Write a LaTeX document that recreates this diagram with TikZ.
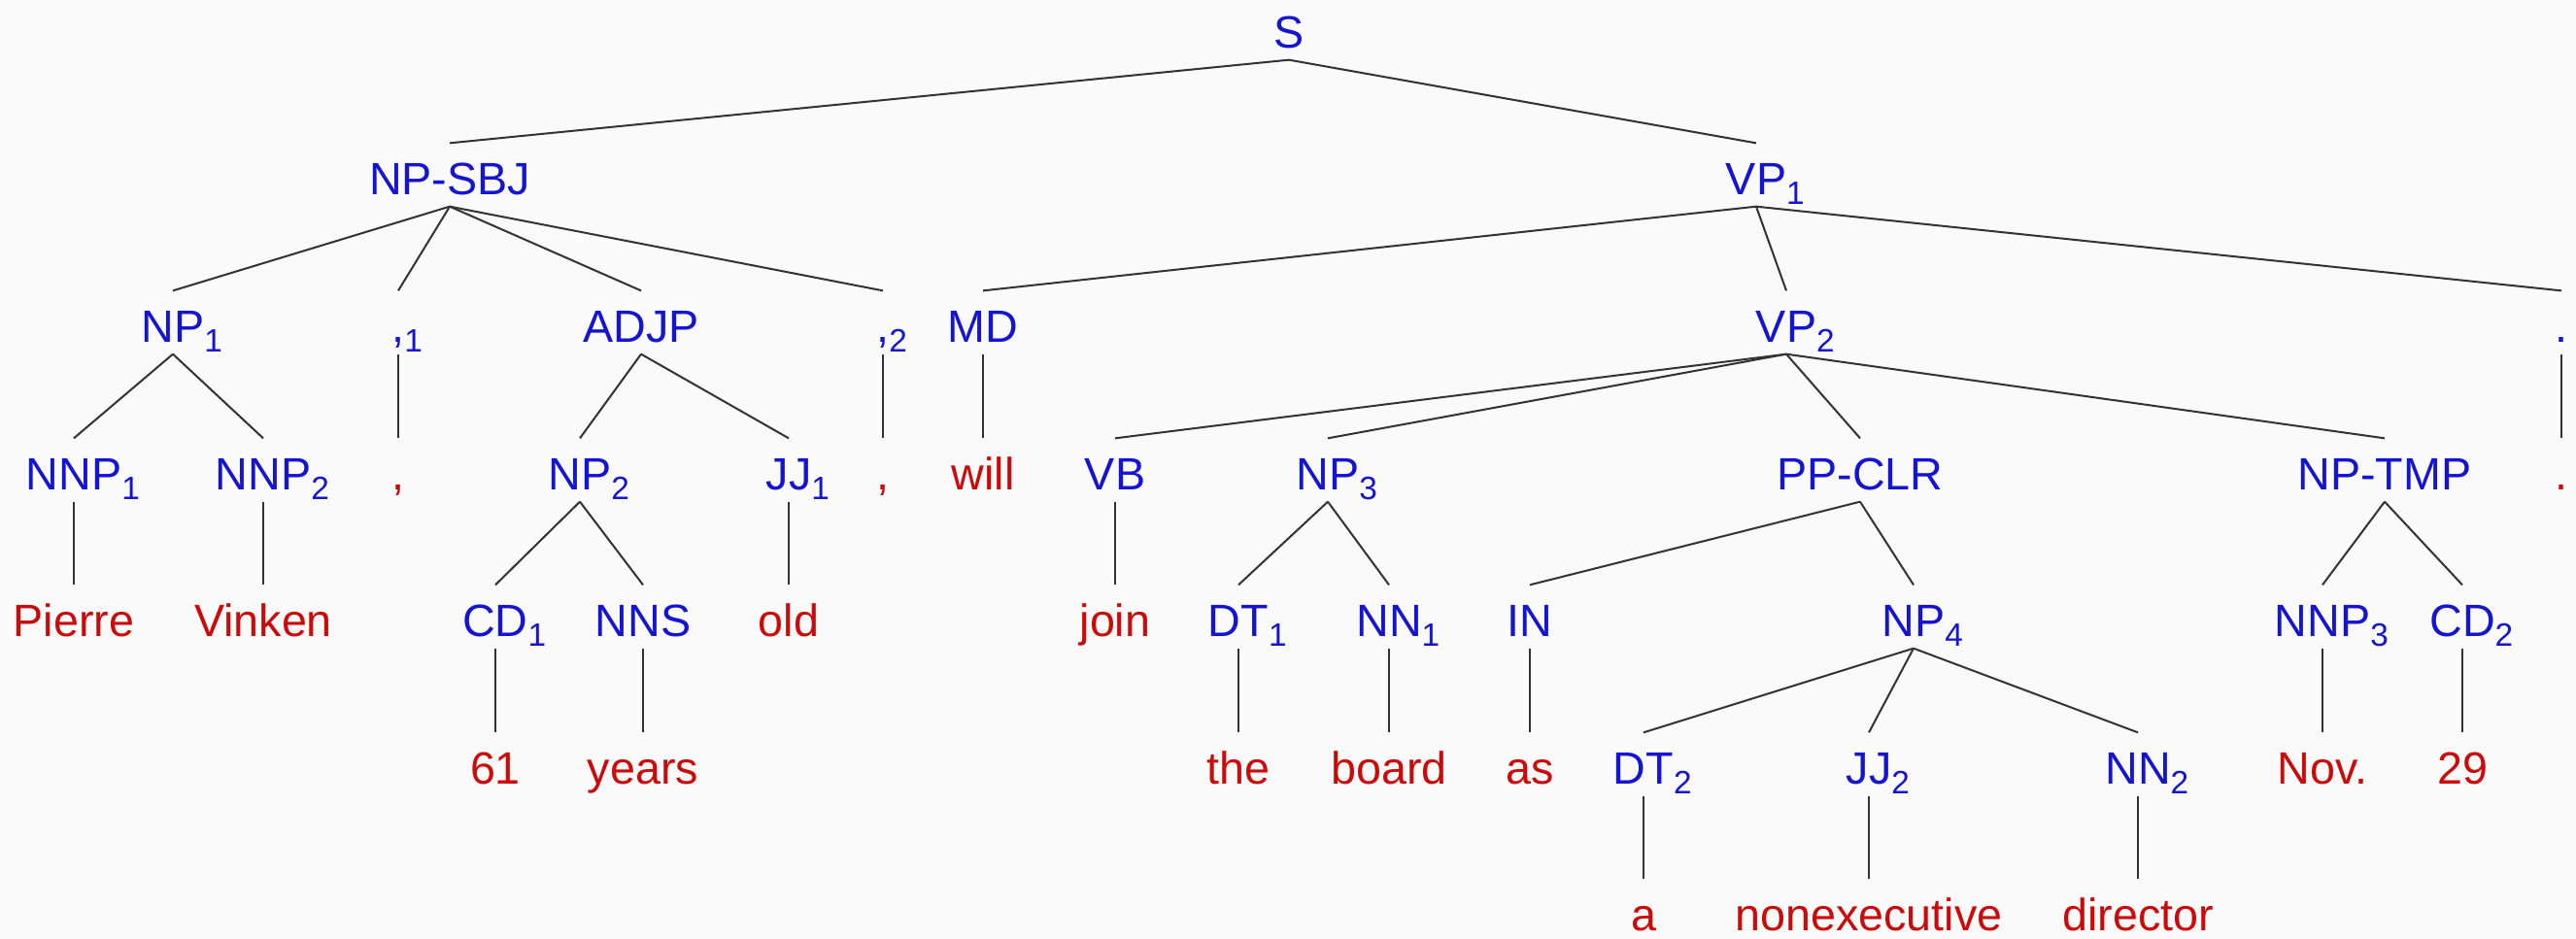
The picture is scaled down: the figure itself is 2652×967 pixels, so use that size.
\documentclass[tikz,border=0pt]{standalone}
\usepackage{fontspec}
\setmainfont{Liberation Sans}
\definecolor{ntblue}{RGB}{20,20,210}
\definecolor{lfred}{RGB}{205,10,10}
\definecolor{bgcol}{RGB}{250,250,250}
\newcommand{\sbs}[1]{\rlap{\raisebox{-3pt}{\fontsize{10}{10}\selectfont #1}}}
\begin{document}
\begin{tikzpicture}[x=0.3pt,y=-0.3pt,
  lab/.style={inner sep=0pt, text height=15.6pt, text depth=3.6pt, anchor=base, font=\fontsize{14}{16}\selectfont},
  nt/.style={lab, text=ntblue},
  lf/.style={lab, text=lfred},
  edge/.style={draw=black!80, line width=0.6pt}]
\fill[bgcol] (0,0) rectangle (2652,967);
\useasboundingbox (0,0) rectangle (2652,967);
% row 0
\node[nt] (S) at (1327,49) {S};
% row 1
\node[nt] (npsbj) at (463,200) {NP-SBJ};
\node[nt] (vp1) at (1808,200) {VP\sbs{1}};
% row 2
\node[nt] (np1) at (178,352) {NP\sbs{1}};
\node[nt] (cm1) at (410,352) {,\sbs{1}};
\node[nt] (adjp) at (660,352) {ADJP};
\node[nt] (cm2) at (909,352) {,\sbs{2}};
\node[nt] (md) at (1012,352) {MD};
\node[nt] (vp2) at (1839,352) {VP\sbs{2}};
\node[nt] (per) at (2637,352) {.};
% row 3
\node[nt] (nnp1) at (76,504) {NNP\sbs{1}};
\node[nt] (nnp2) at (271,504) {NNP\sbs{2}};
\node[lf] (cmw1) at (410,504) {,};
\node[nt] (np2) at (597,504) {NP\sbs{2}};
\node[nt] (jj1) at (812,504) {JJ\sbs{1}};
\node[lf] (cmw2) at (909,504) {,};
\node[lf] (will) at (1012,504) {will};
\node[nt] (vb) at (1148,504) {VB};
\node[nt] (np3) at (1367,504) {NP\sbs{3}};
\node[nt] (ppclr) at (1915,504) {PP-CLR};
\node[nt] (nptmp) at (2455,504) {NP-TMP};
\node[lf] (perw) at (2637,504) {.};
% row 4
\node[lf] (pierre) at (76,655) {Pierre};
\node[lf] (vinken) at (271,655) {Vinken};
\node[nt] (cd1) at (510,655) {CD\sbs{1}};
\node[nt] (nns) at (662,655) {NNS};
\node[lf] (old) at (812,655) {old};
\node[lf] (join) at (1148,655) {join};
\node[nt] (dt1) at (1275,655) {DT\sbs{1}};
\node[nt] (nn1) at (1430,655) {NN\sbs{1}};
\node[nt] (inn) at (1575,655) {IN};
\node[nt] (np4) at (1970,655) {NP\sbs{4}};
\node[nt] (nnp3) at (2391,655) {NNP\sbs{3}};
\node[nt] (cd2) at (2535,655) {CD\sbs{2}};
% row 5
\node[lf] (w61) at (510,807) {61};
\node[lf] (years) at (662,807) {years};
\node[lf] (the) at (1275,807) {the};
\node[lf] (board) at (1430,807) {board};
\node[lf] (as) at (1575,807) {as};
\node[nt] (dt2) at (1692,807) {DT\sbs{2}};
\node[nt] (jj2) at (1924,807) {JJ\sbs{2}};
\node[nt] (nn2) at (2201,807) {NN\sbs{2}};
\node[lf] (nov) at (2391,807) {Nov.};
\node[lf] (w29) at (2535,807) {29};
% row 6
\node[lf] (a) at (1692,958) {a};
\node[lf] (nonexec) at (1924,958) {nonexecutive};
\node[lf] (director) at (2201,958) {director};
% edges
\foreach \p/\c in {S/npsbj, S/vp1,
  npsbj/np1, npsbj/cm1, npsbj/adjp, npsbj/cm2,
  vp1/md, vp1/vp2, vp1/per,
  np1/nnp1, np1/nnp2, cm1/cmw1, adjp/np2, adjp/jj1, cm2/cmw2, md/will,
  vp2/vb, vp2/np3, vp2/ppclr, vp2/nptmp, per/perw,
  nnp1/pierre, nnp2/vinken, np2/cd1, np2/nns, jj1/old, vb/join,
  np3/dt1, np3/nn1, ppclr/inn, ppclr/np4, nptmp/nnp3, nptmp/cd2,
  cd1/w61, nns/years, dt1/the, nn1/board, inn/as,
  np4/dt2, np4/jj2, np4/nn2, nnp3/nov, cd2/w29,
  dt2/a, jj2/nonexec, nn2/director}
  \draw[edge] (\p.south) -- (\c.north);
\end{tikzpicture}
\end{document}
